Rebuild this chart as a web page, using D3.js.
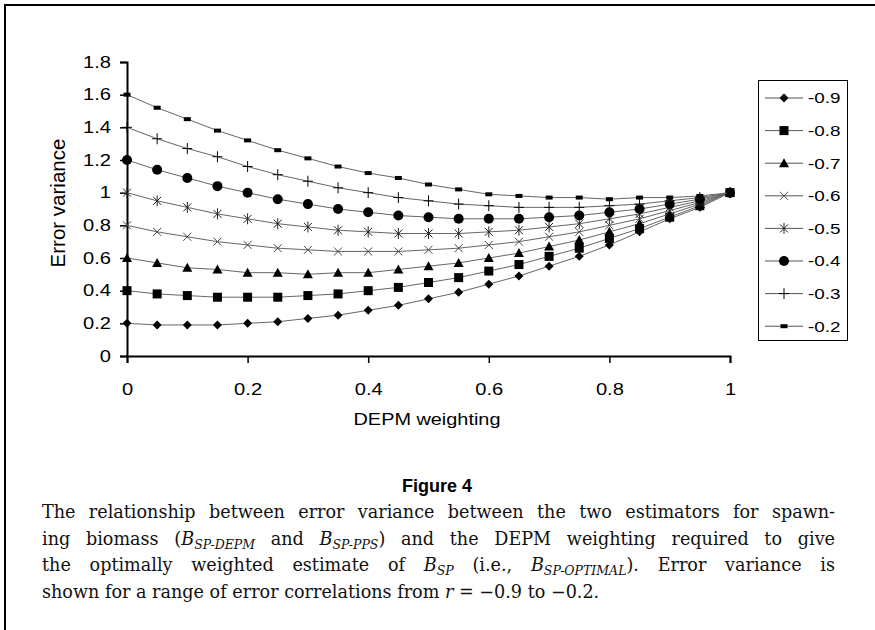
<!DOCTYPE html>
<html>
<head>
<meta charset="utf-8">
<script src="https://cdn.jsdelivr.net/npm/d3@7"></script>
<style>
  html, body { margin: 0; padding: 0; background: #fff; }
  #wrap { position: relative; width: 875px; height: 630px; overflow: hidden; }
  svg { position: absolute; left: 0; top: 0; }
  #caption { position: absolute; left: 42px; width: 793px; top: 499px;
    font-family: "DejaVu Serif", serif; font-size: 17.6px; line-height: 26.7px; color: #111; }
  #caption .ln { text-align: justify; text-align-last: justify; }
  #caption .last { text-align: left; text-align-last: left; }
  #caption sub { font-size: 12.5px; font-style: italic; vertical-align: -4px; line-height: 0; }
  #caption i { font-style: italic; }
</style>
</head>
<body>
<div id="wrap">
<svg id="chart" width="875" height="630"></svg>
<div id="caption">
  <div class="ln">The relationship between error variance between the two estimators for spawn-</div>
  <div class="ln">ing biomass (<i>B</i><sub>SP-DEPM</sub> and <i>B</i><sub>SP-PPS</sub>) and the DEPM weighting required to give</div>
  <div class="ln">the optimally weighted estimate of <i>B</i><sub>SP</sub> (i.e., <i>B</i><sub>SP-OPTIMAL</sub>). Error variance is</div>
  <div class="ln last">shown for a range of error correlations from <i>r</i> = &#8722;0.9 to &#8722;0.2.</div>
</div>
</div>
<script>
// ---- data ----
const weights = [0, 0.05, 0.1, 0.15, 0.2, 0.25, 0.3, 0.35, 0.4, 0.45, 0.5,
                 0.55, 0.6, 0.65, 0.7, 0.75, 0.8, 0.85, 0.9, 0.95, 1];
const seriesNames = ["-0.9", "-0.8", "-0.7", "-0.6", "-0.5", "-0.4", "-0.3", "-0.2"];
const r09 = [0.20, 0.19, 0.19, 0.19, 0.20, 0.21, 0.23, 0.25, 0.28, 0.31, 0.35, 0.39, 0.44, 0.49, 0.55, 0.61, 0.68, 0.76, 0.84, 0.91, 1.00];
const r08 = [0.40, 0.38, 0.37, 0.36, 0.36, 0.36, 0.37, 0.38, 0.40, 0.42, 0.45, 0.48, 0.52, 0.56, 0.61, 0.66, 0.72, 0.78, 0.85, 0.92, 1.00];
const r07 = [0.60, 0.57, 0.54, 0.53, 0.51, 0.51, 0.50, 0.51, 0.51, 0.53, 0.55, 0.57, 0.60, 0.63, 0.67, 0.71, 0.76, 0.81, 0.87, 0.93, 1.00];
const r06 = [0.80, 0.76, 0.73, 0.70, 0.68, 0.66, 0.65, 0.64, 0.64, 0.64, 0.65, 0.66, 0.68, 0.70, 0.73, 0.76, 0.80, 0.84, 0.89, 0.94, 1.00];
const r05 = [1.00, 0.95, 0.91, 0.87, 0.84, 0.81, 0.79, 0.77, 0.76, 0.75, 0.75, 0.75, 0.76, 0.77, 0.79, 0.81, 0.84, 0.87, 0.91, 0.95, 1.00];
const r04 = [1.20, 1.14, 1.09, 1.04, 1.00, 0.96, 0.93, 0.90, 0.88, 0.86, 0.85, 0.84, 0.84, 0.84, 0.85, 0.86, 0.88, 0.90, 0.93, 0.96, 1.00];
const r03 = [1.40, 1.33, 1.27, 1.22, 1.16, 1.11, 1.07, 1.03, 1.00, 0.97, 0.95, 0.93, 0.92, 0.91, 0.91, 0.91, 0.92, 0.93, 0.95, 0.97, 1.00];
const r02 = [1.60, 1.52, 1.45, 1.38, 1.32, 1.26, 1.21, 1.16, 1.12, 1.09, 1.05, 1.02, 0.99, 0.98, 0.97, 0.97, 0.96, 0.97, 0.97, 0.98, 1.00];
const seriesValues = [r09, r08, r07, r06, r05, r04, r03, r02];
const xTicks = [0, 0.2, 0.4, 0.6, 0.8, 1];
const xTickLabels = ["0", "0.2", "0.4", "0.6", "0.8", "1"];
const yTicks = [0, 0.2, 0.4, 0.6, 0.8, 1, 1.2, 1.4, 1.6, 1.8];
const yTickLabels = ["0", "0.2", "0.4", "0.6", "0.8", "1", "1.2", "1.4", "1.6", "1.8"];
const xTitle = "DEPM weighting";
const yTitle = "Error variance";
const figTitle = "Figure 4";

// ---- drawing ----
const svg = d3.select("#chart");
const FONT = "'Liberation Sans', Arial, sans-serif";
const SX = 1.22; // horizontal stretch of the reference lettering

function stretch(sel, k) {
  sel.each(function () {
    const t = d3.select(this);
    const bx = +t.attr("x") || 0;
    t.attr("transform", `translate(${bx * (1 - k)},0) scale(${k},1)`);
  });
}

// outer frame
svg.append("path").attr("d", "M5,630 L5,5 L875,5")
  .attr("fill", "none").attr("stroke", "#000").attr("stroke-width", 2);

const x = d3.scaleLinear().domain([0, 1]).range([127, 730]);
const y = d3.scaleLinear().domain([0, 1.8]).range([356, 62]);

// axes
const xAxis = d3.axisBottom(x).tickValues(xTicks)
  .tickFormat((d, i) => xTickLabels[i]).tickSizeOuter(0).tickSize(7).tickPadding(20);
const yAxis = d3.axisLeft(y).tickValues(yTicks)
  .tickFormat((d, i) => yTickLabels[i]).tickSizeOuter(0).tickSize(7).tickPadding(9);

const gx = svg.append("g").attr("transform", `translate(0,${y(0)})`).call(xAxis);
const gy = svg.append("g").attr("transform", `translate(${x(0)},0)`).call(yAxis);
[gx, gy].forEach(g => {
  g.select(".domain").attr("stroke", "#000").attr("stroke-width", 2);
  g.selectAll(".tick line").attr("stroke", "#000").attr("stroke-width", 1.5);
  g.selectAll(".tick text").attr("font-family", FONT).attr("font-size", 16.5).attr("fill", "#000");
  stretch(g.selectAll(".tick text"), SX);
});

svg.append("text").attr("x", 427).attr("y", 425).attr("text-anchor", "middle")
  .attr("font-family", FONT).attr("font-size", 16.3).text(xTitle)
  .call(s => stretch(s, SX));
svg.append("text").attr("transform", "translate(65,203) rotate(-90)").attr("text-anchor", "middle")
  .attr("font-family", FONT).attr("font-size", 20.5).text(yTitle);

// marker painters (shape only; position comes from scales)
function marker(g, k) {
  switch (k) {
    case 0: g.append("path").attr("d", "M0,-4.5L4.5,0L0,4.5L-4.5,0Z").attr("fill", "#000"); break;
    case 1: g.append("rect").attr("x", -4.5).attr("y", -4.5).attr("width", 9).attr("height", 9).attr("fill", "#000"); break;
    case 2: g.append("path").attr("d", "M0,-5L5,4L-5,4Z").attr("fill", "#000"); break;
    case 3: g.append("path").attr("d", "M-4,-4L4,4M-4,4L4,-4").attr("stroke", "#444").attr("stroke-width", 1).attr("fill", "none"); break;
    case 4: g.append("path").attr("d", "M-4,-4L4,4M-4,4L4,-4M0,-5.5L0,5.5").attr("stroke", "#222").attr("stroke-width", 1).attr("fill", "none"); break;
    case 5: g.append("circle").attr("r", 5).attr("fill", "#000"); break;
    case 6: g.append("path").attr("d", "M-5,0L5,0M0,-5.5L0,5.5").attr("stroke", "#000").attr("stroke-width", 1).attr("fill", "none"); break;
    case 7: g.append("rect").attr("x", -3.5).attr("y", -2).attr("width", 7).attr("height", 4).attr("fill", "#000"); break;
  }
}

const line = d3.line().x((d, i) => x(weights[i])).y(d => y(d));
seriesValues.forEach((vals, k) => {
  const g = svg.append("g").attr("class", "series");
  g.append("path").attr("d", line(vals)).attr("fill", "none")
    .attr("stroke", "#666").attr("stroke-width", 1);
  vals.forEach((v, i) => {
    const m = g.append("g").attr("transform", `translate(${x(weights[i])},${y(v)})`);
    marker(m, k);
  });
});

// legend
const lg = svg.append("g");
lg.append("rect").attr("x", 758.5).attr("y", 80.5).attr("width", 89).attr("height", 260)
  .attr("fill", "#fff").attr("stroke", "#000").attr("stroke-width", 1);
seriesNames.forEach((name, k) => {
  const cy = 98 + k * 32.6;
  const row = lg.append("g").attr("transform", `translate(0,${cy})`);
  row.append("line").attr("x1", 765).attr("x2", 803).attr("y1", 0).attr("y2", 0)
    .attr("stroke", "#555").attr("stroke-width", 1);
  marker(row.append("g").attr("transform", "translate(784,0)"), k);
  row.append("text").attr("x", 808).attr("y", 0).attr("dy", "0.35em")
    .attr("font-family", FONT).attr("font-size", 15.5).text(name)
    .call(s => stretch(s, SX));
});

// figure title
svg.append("text").attr("x", 437).attr("y", 492).attr("text-anchor", "middle")
  .attr("font-family", FONT).attr("font-weight", "bold").attr("font-size", 18).text(figTitle);
</script>
</body>
</html>
